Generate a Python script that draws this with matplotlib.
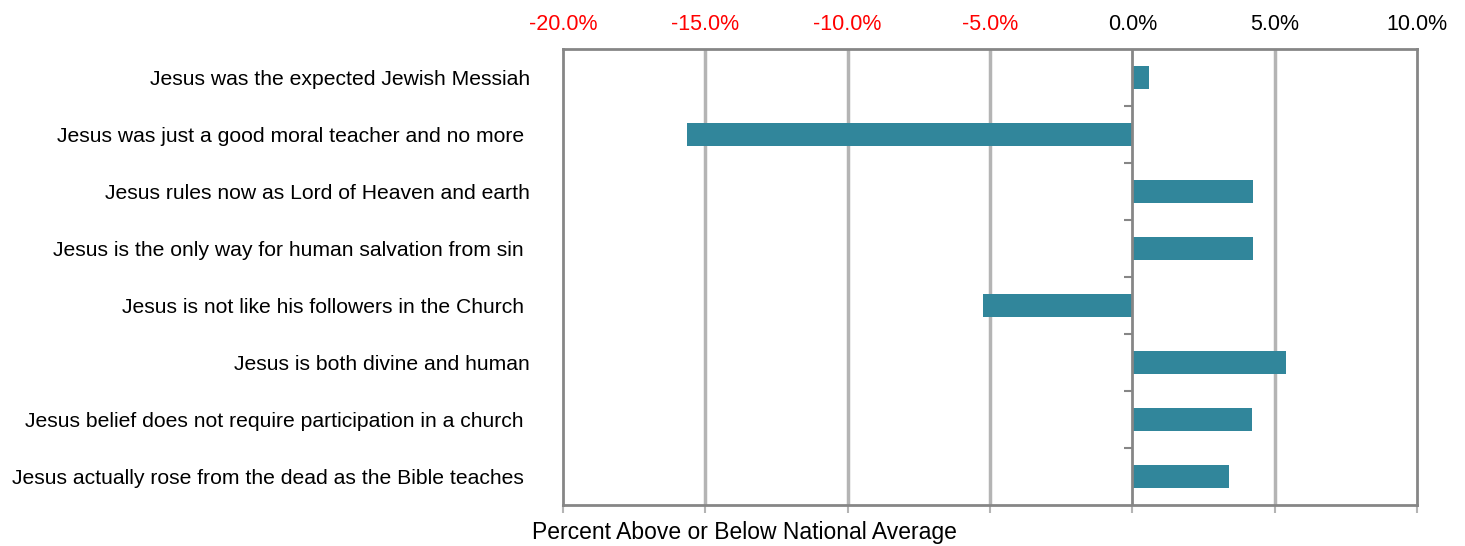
import numpy as np
import matplotlib.pyplot as plt

plt.rcParams['font.family'] = ['Liberation Sans', 'DejaVu Sans']

statements = [
    "Jesus was the expected Jewish Messiah",
    "Jesus was just a good moral teacher and no more ",
    "Jesus rules now as Lord of Heaven and earth",
    "Jesus is the only way for human salvation from sin ",
    "Jesus is not like his followers in the Church ",
    "Jesus is both divine and human",
    "Jesus belief does not require participation in a church ",
    "Jesus actually rose from the dead as the Bible teaches ",
]
diff_pct = [0.6, -15.65, 4.25, 4.25, -5.25, 5.4, 4.2, 3.4]
xticks = [-20, -15, -10, -5, 0, 5, 10]

bar_color = '#31869B'
grid_color = '#B4B4B4'
axis_color = '#868686'

fig = plt.figure(figsize=(14.65, 5.46), dpi=100)
ax = fig.add_axes([0.3843, 0.0751, 0.9672 - 0.3843, 0.9103 - 0.0751])

y = np.arange(len(statements))
ax.barh(y, diff_pct, height=0.4, color=bar_color, zorder=3)

ax.set_xlim(-20, 10)
ax.set_ylim(len(statements) - 0.5, -0.5)

# vertical gridlines and the zero line
for v in xticks[1:-1]:
    if v == 0:
        ax.axvline(v, color=axis_color, lw=2, zorder=4)
    else:
        ax.axvline(v, color=grid_color, lw=2.5, zorder=1)

# category separators on the zero line
bounds = y[:-1] + 0.5
ax.plot(np.zeros(len(bounds)), bounds, ls='none', marker=0, ms=6,
        mew=1.5, color=axis_color, zorder=4)

for s in ax.spines.values():
    s.set_color(axis_color)
    s.set_linewidth(2)

# percent labels on top, negatives in red; bare ticks at the bottom
ax.set_xticks(xticks)
ax.set_xticklabels([f"{v:.1f}%" for v in xticks])
ax.tick_params(axis='x', bottom=True, top=False, labelbottom=False,
               labeltop=True, direction='out', length=6, width=1.5,
               color=grid_color, pad=4, labelsize=15.5)
for tick, v in zip(ax.xaxis.get_major_ticks(), xticks):
    tick.label2.set_color('red' if v < 0 else 'black')

ax.set_yticks(y)
ax.set_yticklabels(statements, fontsize=15.2)
ax.tick_params(axis='y', length=0, pad=24)

fig.text(744 / 1465, 1 - 532 / 546, "Percent Above or Below National Average",
         ha='center', va='center', fontsize=16.5)

fig.savefig('out.png', dpi=100)
